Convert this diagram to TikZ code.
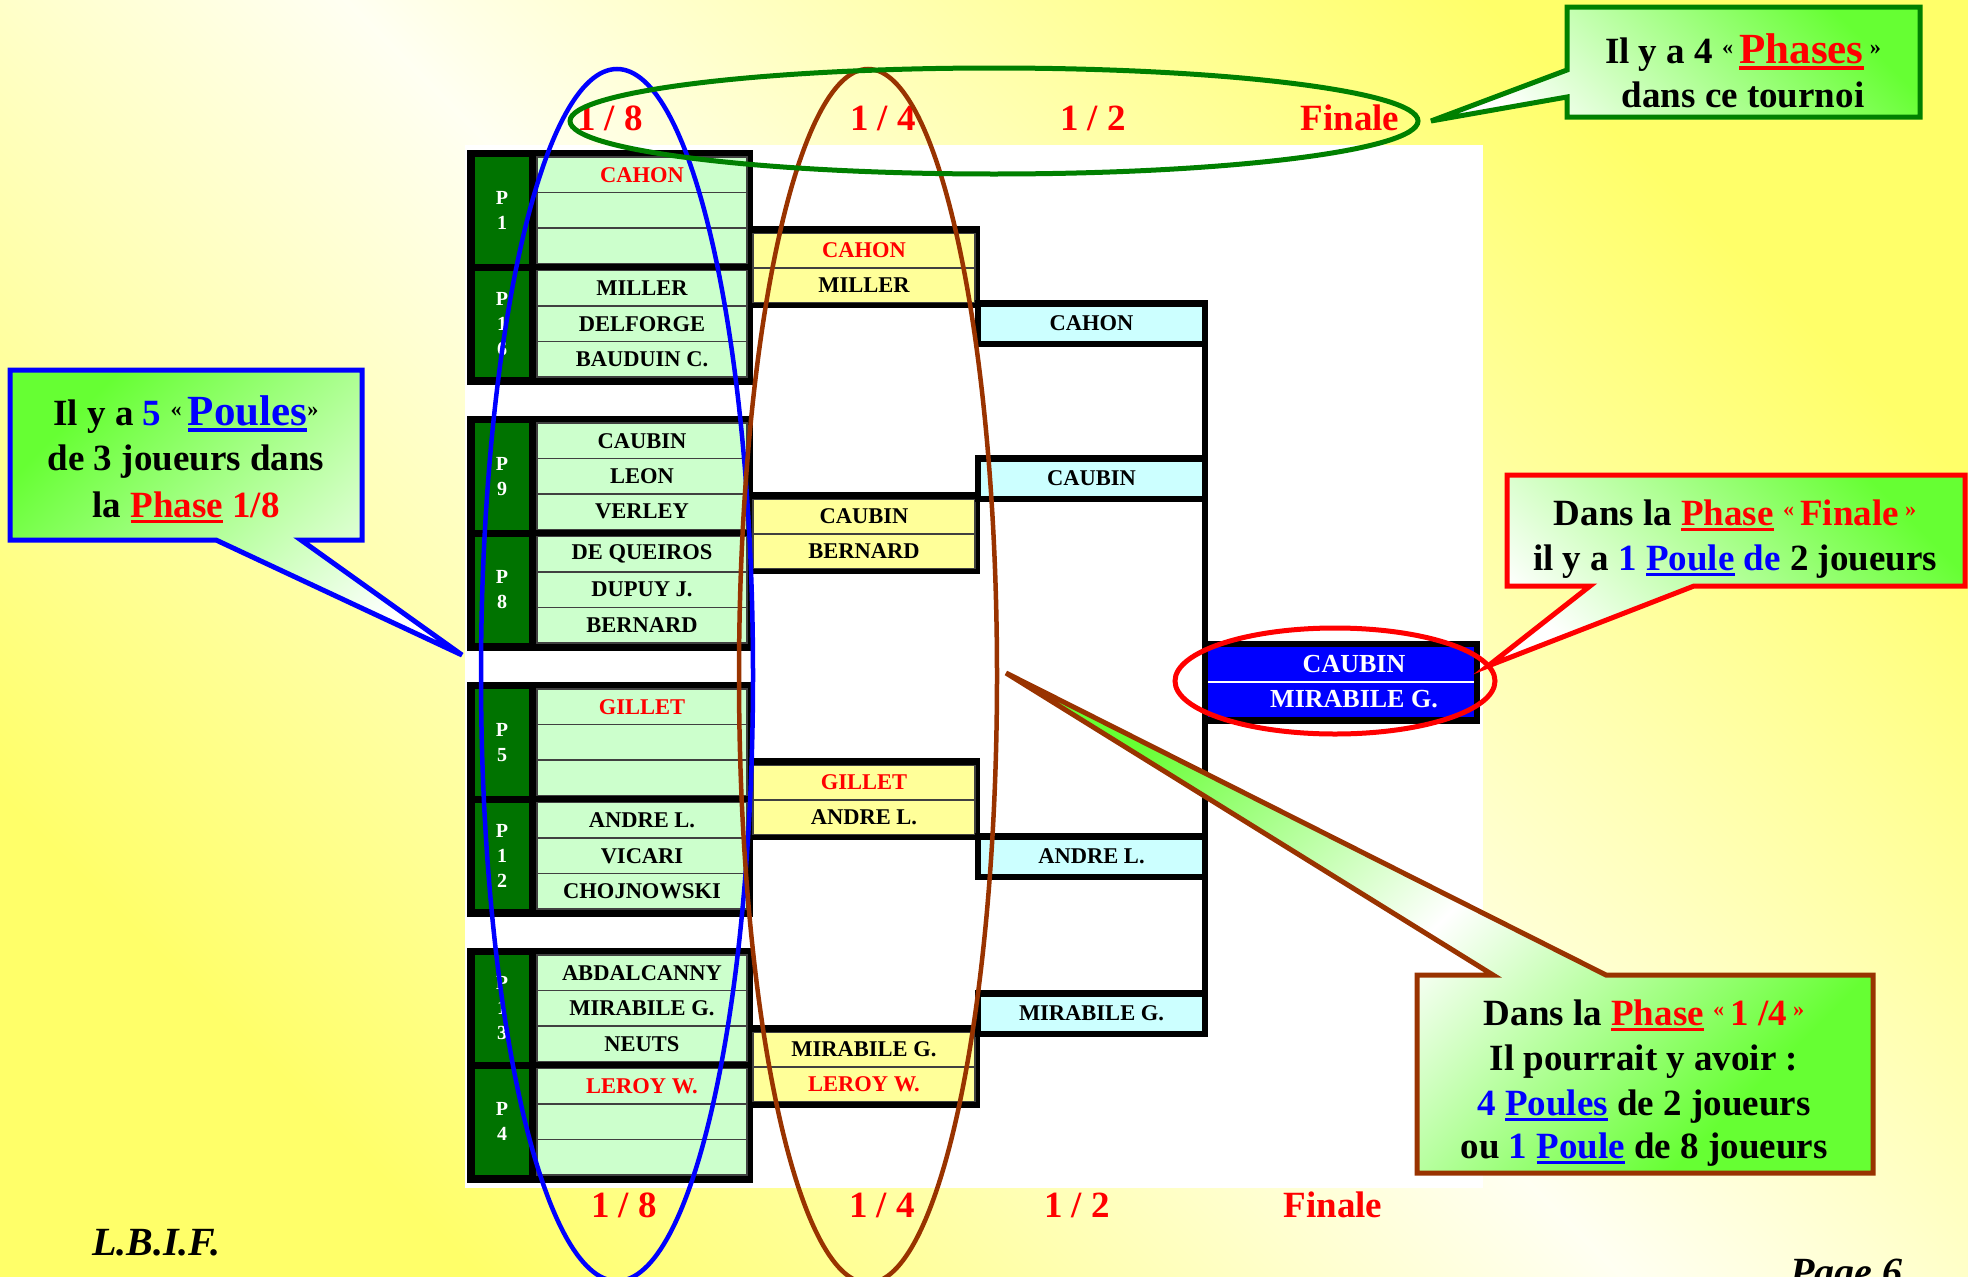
\documentclass[tikz,border=0pt]{standalone}
\usepackage{fontspec}
\setmainfont{Liberation Serif}
\usepackage{graphicx}
\usetikzlibrary{positioning}

\definecolor{bgyellow}{RGB}{255,255,105}
\definecolor{bgpale}{RGB}{255,255,242}
\definecolor{pgreen}{RGB}{0,115,0}
\definecolor{cellgreen}{RGB}{204,255,204}
\definecolor{cellyellow}{RGB}{255,255,153}
\definecolor{cellcyan}{RGB}{204,255,255}
\definecolor{finalblue}{RGB}{0,0,255}
\definecolor{lime}{RGB}{102,255,51}
\definecolor{quartbrown}{RGB}{153,51,0}
\definecolor{phgreen}{RGB}{0,128,0}
\definecolor{txtred}{RGB}{255,0,0}
\definecolor{txtblue}{RGB}{0,0,255}

\newsavebox\ulbox
\newcommand\ulword[1]{\sbox\ulbox{#1}\rlap{\rule[-0.17em]{\wd\ulbox}{0.09em}}\usebox\ulbox}
\newcommand\lguil{\raisebox{0.22em}{\scalebox{0.6}{«}}}
\newcommand\rguil{\raisebox{0.22em}{\scalebox{0.6}{»}}}
\newcommand\callfont{\fontsize{37}{45}\selectfont\bfseries}
\newcommand\bigword{\fontsize{43}{45}\selectfont}

\begin{document}
\begin{tikzpicture}[x=1pt,y=-1pt,
    namecell/.style={draw=black!75,line width=1.5pt,fill=cellgreen,outer sep=0pt,inner sep=0pt,
      minimum width=210pt,minimum height=35.5pt,font=\fontsize{22.5}{24}\selectfont\bfseries},
    quartcell/.style={namecell,fill=cellyellow,minimum width=222pt,minimum height=34.5pt},
    halfcell/.style={draw=black,line width=6.5pt,fill=cellcyan,outer sep=0pt,inner sep=0pt,
      minimum width=227pt,minimum height=40.5pt,font=\fontsize{22.5}{24}\selectfont\bfseries},
    finalcell/.style={fill=finalblue,text=white,outer sep=0pt,inner sep=0pt,
      minimum width=266pt,minimum height=35pt,font=\fontsize{26}{28}\selectfont\bfseries},
    poule/.style={fill=pgreen,text=white,align=center,inner sep=0pt,
      minimum width=54pt,minimum height=106.5pt,font=\fontsize{20}{25}\selectfont\bfseries},
    winner/.style={text=txtred},
    phase/.style={text=txtred,anchor=base,inner sep=0pt,font=\fontsize{37}{40}\selectfont\bfseries},
    callline/.style={anchor=base,inner sep=0pt,font=\callfont},
    footer/.style={anchor=base west,inner sep=0pt,font=\fontsize{40}{44}\selectfont\bfseries\itshape}]

	\useasboundingbox (0,0) rectangle (1968,1277);
	\clip (0,0) rectangle (1968,1277);

	% fond
	\shade[left color=bgyellow,right color=bgyellow,middle color=bgpale,shading angle=135]
		(0,0) rectangle (1968,1277);
	\fill[white] (465,145) rectangle (1483,1188);

	% 1/8 : P1 et P16
	\fill (467,150) rectangle (753,385);
	\node[poule] (p1) at (502,210.25) {P\\1};
	\node[poule] (p16) at (502,323.75) {P\\1\\6};
	\node[namecell,winner] (g1a) at (642,174.75) {CAHON};
	\node[namecell,below=0pt of g1a] (g1b) {};
	\node[namecell,below=0pt of g1b] (g1c) {};
	\node[namecell] (g1d) at (642,288.25) {MILLER};
	\node[namecell,below=0pt of g1d] (g1e) {DELFORGE};
	\node[namecell,below=0pt of g1e] (g1f) {BAUDUIN C.};

	% 1/8 : P9 et P8
	\fill (467,416) rectangle (753,651);
	\node[poule] (p9) at (502,476.25) {P\\9};
	\node[poule] (p8) at (502,589.75) {P\\8};
	\node[namecell] (g2a) at (642,440.75) {CAUBIN};
	\node[namecell,below=0pt of g2a] (g2b) {LEON};
	\node[namecell,below=0pt of g2b] (g2c) {VERLEY};
	\node[namecell] (g2d) at (642,554.25) {DE QUEIROS};
	\node[namecell,below=0pt of g2d] (g2e) {DUPUY J.};
	\node[namecell,below=0pt of g2e] (g2f) {BERNARD};

	% 1/8 : P5 et P12
	\fill (467,682) rectangle (753,917);
	\node[poule] (p5) at (502,742.25) {P\\5};
	\node[poule] (p12) at (502,855.75) {P\\1\\2};
	\node[namecell,winner] (g3a) at (642,706.75) {GILLET};
	\node[namecell,below=0pt of g3a] (g3b) {};
	\node[namecell,below=0pt of g3b] (g3c) {};
	\node[namecell] (g3d) at (642,820.25) {ANDRE L.};
	\node[namecell,below=0pt of g3d] (g3e) {VICARI};
	\node[namecell,below=0pt of g3e] (g3f) {CHOJNOWSKI};

	% 1/8 : P13 et P4
	\fill (467,948) rectangle (753,1183);
	\node[poule] (p13) at (502,1008.25) {P\\1\\3};
	\node[poule] (p4) at (502,1121.75) {P\\4};
	\node[namecell] (g4a) at (642,972.75) {ABDALCANNY};
	\node[namecell,below=0pt of g4a] (g4b) {MIRABILE G.};
	\node[namecell,below=0pt of g4b] (g4c) {NEUTS};
	\node[namecell,winner] (g4d) at (642,1086.25) {LEROY W.};
	\node[namecell,below=0pt of g4d] (g4e) {};
	\node[namecell,below=0pt of g4e] (g4f) {};

	% 1/4
	\fill (753,226) rectangle (980,308);
	\node[quartcell,winner] (q1a) at (864,250.5) {CAHON};
	\node[quartcell,below=0pt of q1a] (q1b) {MILLER};
	\fill (753,492) rectangle (980,574);
	\node[quartcell] (q2a) at (864,516.5) {CAUBIN};
	\node[quartcell,below=0pt of q2a] (q2b) {BERNARD};
	\fill (753,758) rectangle (980,840);
	\node[quartcell,winner] (q3a) at (864,782.5) {GILLET};
	\node[quartcell,below=0pt of q3a] (q3b) {ANDRE L.};
	\fill (753,1025) rectangle (980,1108);
	\node[quartcell] (q4a) at (864,1049.5) {MIRABILE G.};
	\node[quartcell,winner,below=0pt of q4a] (q4b) {LEROY W.};

	% 1/2
	\node[halfcell] (h1) at (1091.5,323.5) {CAHON};
	\node[halfcell] (h2) at (1091.5,478.5) {CAUBIN};
	\node[halfcell] (h3) at (1091.5,856.5) {ANDRE L.};
	\node[halfcell] (h4) at (1091.5,1013.5) {MIRABILE G.};
	\draw[line width=6.5pt] (h1.north east) -- (h4.south east);

	% finale
	\fill (1203,641) rectangle (1480,724);
	\node[finalcell] (fa) at (1341,664.5) {\hspace*{26pt}CAUBIN};
	\node[finalcell,below=0pt of fa] (fb) {\hspace*{26pt}MIRABILE G.};
	\draw[white,line width=2pt] (fa.south west) -- (fa.south east);

	% titres des phases
	\node[phase] (t8) at (610,130) {1 / 8};
	\node[phase] (t4) at (883,130) {1 / 4};
	\node[phase] (t2) at (1093,130) {1 / 2};
	\node[phase] (tf) at (1350,130) {Finale};
	\node[phase] (b8) at (624,1217) {1 / 8};
	\node[phase] (b4) at (882,1217) {1 / 4};
	\node[phase] (b2) at (1077,1217) {1 / 2};
	\node[phase] (bf) at (1333,1217) {Finale};

	% ellipses
	\draw[txtblue,line width=4.5pt] (617,675) ellipse [x radius=136, y radius=606];
	\draw[quartbrown,line width=4.5pt] (868,676) ellipse [x radius=129, y radius=607];
	\draw[phgreen,line width=5pt] (994,121) ellipse [x radius=424, y radius=53];
	\draw[txtred,line width=5pt] (1335,681) ellipse [x radius=160, y radius=53];

	% bulles
	\coordinate (tip1) at (1431,121);
	\path[draw=phgreen,line width=5pt,top color=lime,bottom color=white,shading angle=-45]
		(1567,7) -- (1920,7) -- (1920,117) -- (1567,117) -- (1567,97) -- (tip1) -- (1567,70) -- cycle;
	\node[callline] (c1a) at (1743,63) {Il y a 4 \lguil\,\textcolor{txtred}{\bigword\ulword{Phases}}\,\rguil};
	\node[callline] (c1b) at (1743,107) {dans ce tournoi};

	\coordinate (tip2) at (462,655);
	\path[draw=txtblue,line width=5pt,top color=lime,bottom color=white,shading angle=45]
		(10,370) -- (362,370) -- (362,540) -- (301,540) -- (tip2) -- (216,540) -- (10,540) -- cycle;
	\node[callline] (c2a) at (186,425) {Il y a \textcolor{txtblue}{5} \lguil\,\textcolor{txtblue}{\bigword\ulword{Poules}}\rguil};
	\node[callline] (c2b) at (186,470) {de 3 joueurs dans};
	\node[callline] (c2c) at (186,517) {la \textcolor{txtred}{\ulword{Phase} 1/8}};

	\coordinate (tip3) at (1488,666);
	\path[draw=txtred,line width=5pt,top color=lime,bottom color=white,shading angle=-45]
		(1507,475) -- (1965,475) -- (1965,586) -- (1694,586) -- (tip3) -- (1590,586) -- (1507,586) -- cycle;
	\node[callline] (c3a) at (1735,525) {Dans la \textcolor{txtred}{\ulword{Phase} \lguil\,Finale\,\rguil}};
	\node[callline] (c3b) at (1735,570) {il y a \textcolor{txtblue}{1 \ulword{Poule} de} 2 joueurs};

	\coordinate (tip4) at (1006,673);
	\path[draw=quartbrown,line width=5pt,top color=lime,bottom color=lime,middle color=white,shading angle=45]
		(1417,975) -- (1493,975) -- (tip4) -- (1606,975) -- (1873,975) -- (1873,1173) -- (1417,1173) -- cycle;
	\node[callline] (c4a) at (1644,1025) {Dans la \textcolor{txtred}{\ulword{Phase} \lguil\,1 /4\,\rguil}};
	\node[callline] (c4b) at (1644,1070) {Il pourrait y avoir :};
	\node[callline] (c4c) at (1644,1115) {\textcolor{txtblue}{4 \ulword{Poules}} de 2 joueurs};
	\node[callline] (c4d) at (1644,1158) {ou \textcolor{txtblue}{1 \ulword{Poule}} de 8 joueurs};

	% pied de page
	\node[footer] (lbif) at (92,1255) {L.B.I.F.};
	\node[footer] (page) at (1790,1285) {Page 6};
\end{tikzpicture}
\end{document}
